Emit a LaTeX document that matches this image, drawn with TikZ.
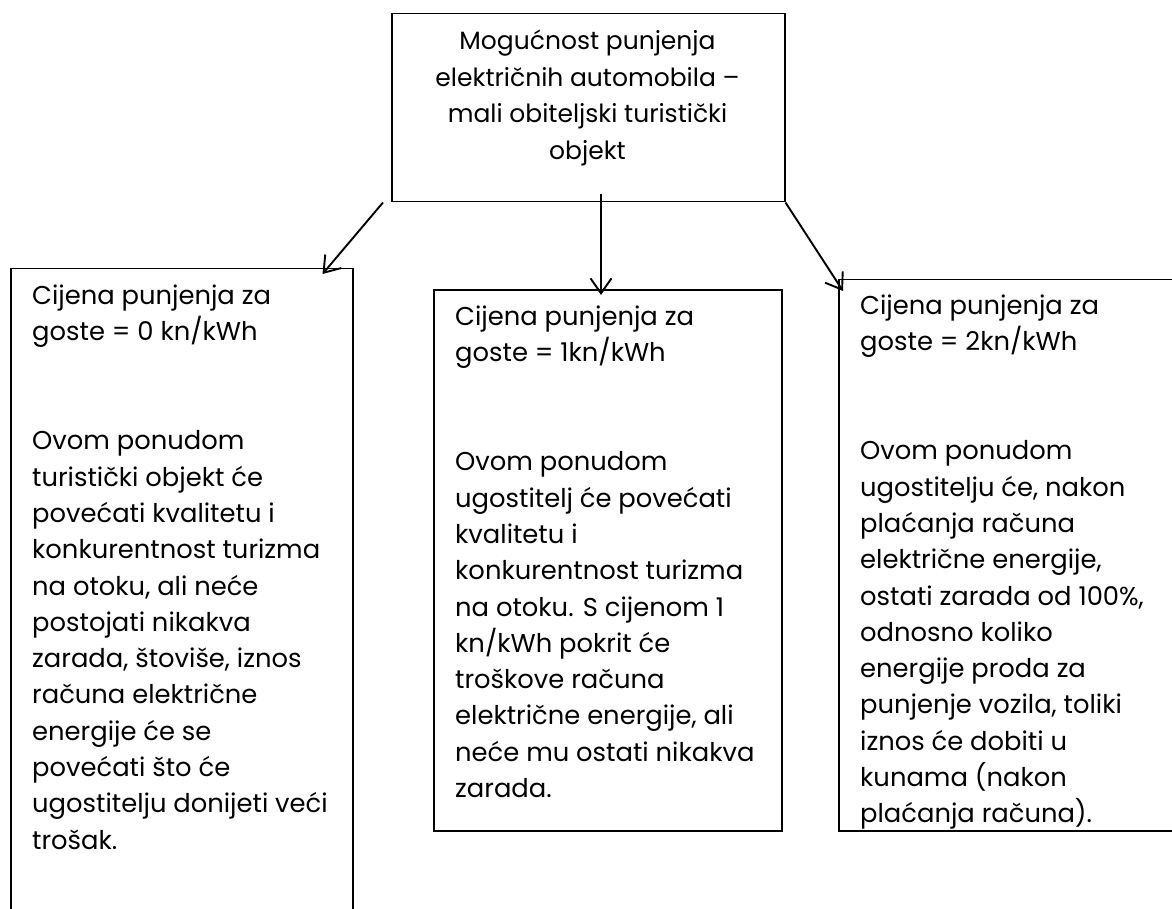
\documentclass[tikz,border=0pt]{standalone}
\usepackage{fontspec}
\setmainfont{Poppins}
\usetikzlibrary{arrows.meta}
\begin{document}
\begin{tikzpicture}[x=1pt,y=-1pt,
  box/.style={draw=black,line width=1.5pt,rectangle,inner sep=0pt,anchor=north west},
  txt/.style={anchor=north west,align=left,inner sep=0pt,font=\fontsize{25.8}{36.3}\selectfont},
  ttxt/.style={anchor=north,align=center,inner sep=0pt,font=\fontsize{25}{36.5}\selectfont},
  arr/.style={draw=black,line width=1.9pt,-{Straight Barb[length=15pt,width=21pt,line width=1.9pt]}}]
\clip (0,0) rectangle (1172,909);
\fill[white] (0,0) rectangle (1172,909);
% boxes
\node[box,minimum width=393pt,minimum height=188pt] (top) at (391,13) {};
\node[box,minimum width=342pt,minimum height=700pt] (lbox) at (10,268) {};
\node[box,minimum width=348pt,minimum height=541pt] (mbox) at (433,289) {};
\node[box,minimum width=400pt,minimum height=551pt] (rbox) at (838,279) {};
% texts (anchor at first baseline minus strut height 0.7*36.3)
\node[ttxt] (ttop) at (587.5,24) {\strut Mogućnost punjenja\\ električnih automobila –\\ mali obiteljski turistički\\ objekt};
\node[txt] (tl) at (32,279) {\strut Cijena punjenja za\\ goste = 0 kn/kWh\\[72.6pt] Ovom ponudom\\ turistički objekt će\\ povećati kvalitetu i\\ konkurentnost turizma\\ na otoku, ali neće\\ postojati nikakva\\ zarada, štoviše, iznos\\ računa električne\\ energije će se\\ povećati što će\\ ugostitelju donijeti veći\\ trošak.};
\node[txt] (tm) at (455,300) {\strut Cijena punjenja za\\ goste = 1kn/kWh\\[72.6pt] Ovom ponudom\\ ugostitelj će povećati\\ kvalitetu i\\ konkurentnost turizma\\ na otoku. S cijenom 1\\ kn/kWh pokrit će\\ troškove računa\\ električne energije, ali\\ neće mu ostati nikakva\\ zarada.};
\node[txt] (tr) at (860,289) {\strut Cijena punjenja za\\ goste = 2kn/kWh\\[72.6pt] Ovom ponudom\\ ugostitelju će, nakon\\ plaćanja računa\\ električne energije,\\ ostati zarada od 100\%,\\ odnosno koliko\\ energije proda za\\ punjenje vozila, toliki\\ iznos će dobiti u\\ kunama (nakon\\ plaćanja računa).};
% arrows
\draw[arr] ([xshift=-8pt]top.south west) -- ([xshift=-31pt,yshift=-6pt]lbox.north east);
\draw[arr] ([xshift=210pt,yshift=8pt]top.south west) -- ([xshift=168pt,yshift=-6pt]mbox.north west);
\draw[arr] (top.south east) -- ([xshift=5pt,yshift=-12pt]rbox.north west);
\end{tikzpicture}
\end{document}
